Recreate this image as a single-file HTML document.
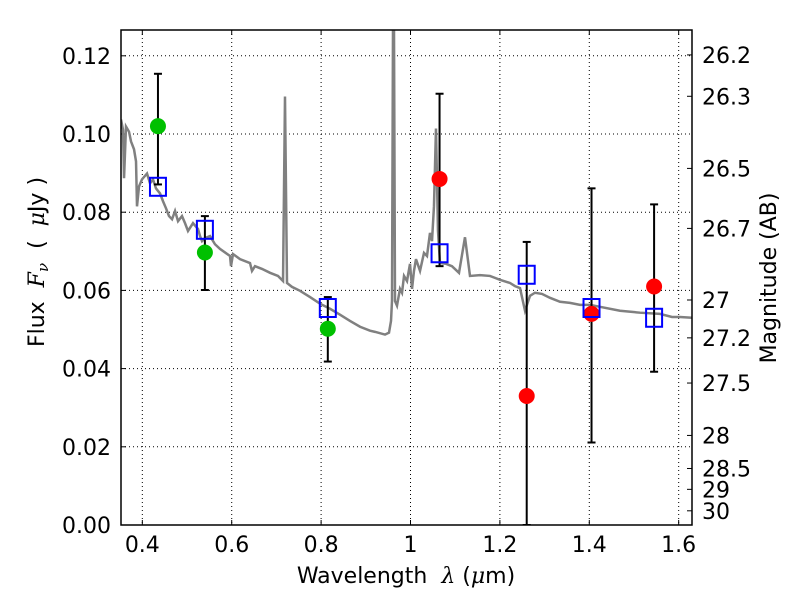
<!DOCTYPE html>
<html><head><meta charset="utf-8"><style>body{margin:0;background:#fff}svg{display:block}text{font-family:"DejaVu Sans","Liberation Sans",sans-serif}</style></head>
<body>
<svg id="c" width="800" height="600"></svg>
<script>
const specX=[0.3523,0.3568,0.3591,0.3635,0.3702,0.3747,0.3814,0.3859,0.3881,0.3926,0.3993,0.4105,0.4172,0.4239,0.4306,0.4396,0.4463,0.4530,0.4597,0.4665,0.4732,0.4799,0.4888,0.4955,0.5022,0.5134,0.5246,0.5291,0.5336,0.5403,0.5515,0.5626,0.5738,0.5962,0.5984,0.6029,0.6186,0.6409,0.6454,0.6521,0.6678,0.6857,0.7036,0.7148,0.7192,0.7237,0.7349,0.7528,0.7752,0.7976,0.8199,0.8423,0.8647,0.8871,0.9094,0.9206,0.9430,0.9519,0.9564,0.9586,0.9608,0.9631,0.9653,0.9698,0.9765,0.9810,0.9855,0.9922,0.9989,1.0034,1.0078,1.0123,1.0213,1.0302,1.0369,1.0436,1.0481,1.0525,1.0570,1.0615,1.0660,1.0794,1.0928,1.1085,1.1219,1.1331,1.1554,1.1778,1.1890,1.2002,1.2226,1.2338,1.2450,1.2562,1.2673,1.2785,1.2942,1.3121,1.3345,1.3568,1.3792,1.4016,1.4239,1.4687,1.5134,1.5582,1.5850,1.6029,1.6298];
const specY=[0.1037,0.1011,0.0887,0.1019,0.1006,0.0981,0.0961,0.0930,0.0815,0.0866,0.0884,0.0899,0.0874,0.0884,0.0861,0.0848,0.0828,0.0810,0.0790,0.0782,0.0803,0.0777,0.0790,0.0772,0.0752,0.0772,0.0757,0.0739,0.0726,0.0734,0.0739,0.0718,0.0706,0.0688,0.0662,0.0693,0.0680,0.0670,0.0650,0.0662,0.0655,0.0645,0.0637,0.0624,0.1096,0.0619,0.0609,0.0599,0.0583,0.0566,0.0553,0.0538,0.0522,0.0507,0.0497,0.0494,0.0487,0.0492,0.0522,0.0573,0.1266,0.1266,0.0573,0.0561,0.0604,0.0594,0.0637,0.0624,0.0668,0.0604,0.0650,0.0680,0.0650,0.0696,0.0688,0.0747,0.0726,0.0815,0.1014,0.0752,0.0670,0.0668,0.0662,0.0645,0.0736,0.0637,0.0639,0.0637,0.0632,0.0627,0.0619,0.0611,0.0606,0.0548,0.0586,0.0594,0.0591,0.0581,0.0571,0.0568,0.0563,0.0563,0.0558,0.0548,0.0543,0.0540,0.0532,0.0532,0.0530];
const photX=[0.435,0.54,0.815,1.065,1.26,1.405,1.545];
const photY=[0.102,0.0697,0.0502,0.0885,0.033,0.054,0.061];
const errHi=[0.1154,0.079,0.0583,0.1103,0.0724,0.0861,0.082];
const errLo=[0.0871,0.0601,0.0418,0.0662,0.0,0.0211,0.0392];
const modelY=[0.0865,0.0755,0.0555,0.0695,0.064,0.0555,0.053];
const xTicks=[0.4,0.6,0.8,1.0,1.2,1.4,1.6];
const xTickLabels=["0.4","0.6","0.8","1","1.2","1.4","1.6"];
const yTicks=[0,0.02,0.04,0.06,0.08,0.10,0.12];
const yTickLabels=["0.00","0.02","0.04","0.06","0.08","0.10","0.12"];
const magTicks=[26.2,26.3,26.5,26.7,27,27.2,27.5,28,28.5,29,30];
const magLabels=["26.2","26.3","26.5","26.7","27","27.2","27.5","28","28.5","29","30"];

const L=121,R=692,T=30,B=525,X0=0.3523,X1=1.6298,Y0=0,Y1=0.1266;
const sx=v=>L+(v-X0)/(X1-X0)*(R-L), sy=v=>B-(v-Y0)/(Y1-Y0)*(B-T);
const svg=document.getElementById('c'),NS='http://www.w3.org/2000/svg';
function mk(t,a,p){const e=document.createElementNS(NS,t);for(const k in a)e.setAttribute(k,a[k]);(p||svg).appendChild(e);return e;}
const defs=mk('defs',{});const cp=mk('clipPath',{id:'cp'},defs);mk('rect',{x:L,y:T,width:R-L,height:B-T},cp);
xTicks.forEach((v,i)=>{const x=sx(v);
 const g=mk('line',{x1:x,x2:x,y1:T,y2:B,stroke:'#000','stroke-dasharray':'1,3','stroke-width':1});
 
 mk('line',{x1:x,x2:x,y1:B,y2:B-5,stroke:'#000'});mk('line',{x1:x,x2:x,y1:T,y2:T+5,stroke:'#000'});
 const t=mk('text',{x:x,y:B+27,'font-size':22,'text-anchor':'middle'});t.textContent=xTickLabels[i];
 });
yTicks.forEach((v,i)=>{const y=sy(v);
 const g=mk('line',{x1:L,x2:R,y1:y,y2:y,stroke:'#000','stroke-dasharray':'1,3','stroke-width':1});
 
 mk('line',{x1:L,x2:L+5,y1:y,y2:y,stroke:'#000'});
 const t=mk('text',{x:L-10,y:y+8,'font-size':22,'text-anchor':'end'});t.textContent=yTickLabels[i];
 });
magTicks.forEach((m,i)=>{const f=Math.pow(10,(23.9-m)/2.5);const y=sy(f);
 mk('line',{x1:R,x2:R-5,y1:y,y2:y,stroke:'#000'});
 const t=mk('text',{x:R+10,y:y+8,'font-size':22});t.textContent=magLabels[i];
 });
const sp=mk('polyline',{points:specX.map((v,i)=>sx(v)+','+sy(specY[i])).join(' '),fill:'none',stroke:'#808080','stroke-width':2.5,'clip-path':'url(#cp)'});

photX.forEach((v,i)=>{const x=sx(v),y1=sy(errHi[i]),y2=sy(errLo[i]);
 const g=mk('g',{stroke:'#000','stroke-width':2,'clip-path':'url(#cp)'});
 
 mk('line',{x1:x,x2:x,y1:y1,y2:y2},g);mk('line',{x1:x-4,x2:x+4,y1:y1,y2:y1},g);mk('line',{x1:x-4,x2:x+4,y1:y2,y2:y2},g);});
photX.forEach((v,i)=>{const c=mk('circle',{cx:sx(v),cy:sy(photY[i]),r:8,fill:v<0.9?'#00c000':'#ff0000'});
 });
photX.forEach((v,i)=>{const r=mk('rect',{x:sx(v)-8,y:sy(modelY[i])-9,width:16,height:18,fill:'none',stroke:'#0000ff','stroke-width':2});
 });
const fr=mk('rect',{x:L,y:T,width:R-L,height:B-T,fill:'none',stroke:'#000','stroke-width':1.5});

</script>
<svg width="800" height="600" style="position:absolute;left:0;top:0">
<text x="406" y="583" font-size="22" text-anchor="middle" xml:space="preserve" style="white-space:pre">Wavelength  <tspan font-style="italic" font-family="DejaVu Serif">λ</tspan> (<tspan font-style="italic" font-family="DejaVu Serif">μ</tspan>m)</text>
<text transform="translate(44,262) rotate(-90)" font-size="22" text-anchor="middle" xml:space="preserve" style="white-space:pre">Flux  <tspan font-style="italic" font-family="DejaVu Serif">F</tspan><tspan font-style="italic" font-family="DejaVu Serif" font-size="15" dy="4">ν</tspan><tspan dy="-4">  (  </tspan><tspan font-style="italic" font-family="DejaVu Serif">μ</tspan>Jy )</text>
<text transform="translate(776,278) rotate(-90)" font-size="22" text-anchor="middle">Magnitude (AB)</text>
</svg>
</body></html>
